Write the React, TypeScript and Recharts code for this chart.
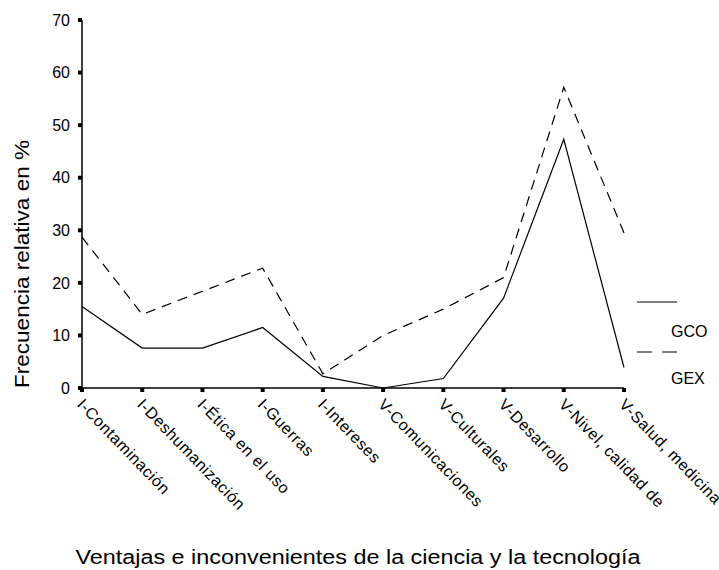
import React from 'react';
import { LineChart, Line, XAxis, YAxis, Label } from 'recharts';

const categories = [
  'I-Contaminación',
  'I-Deshumanización',
  'I-Ética en el uso',
  'I-Guerras',
  'I-Intereses',
  'V-Comunicaciones',
  'V-Culturales',
  'V-Desarrollo',
  'V-Nivel, calidad de',
  'V-Salud, medicina',
];
const gco = [15.5, 7.6, 7.6, 11.5, 2.2, 0, 1.8, 17.1, 47.3, 3.9];
const gex = [28.7, 14, 18.4, 22.8, 2.7, 10, 15, 21, 57.2, 29.5];
const yTicks = [0, 10, 20, 30, 40, 50, 60, 70];

const data = categories.map((name, i) => ({ name, GCO: gco[i], GEX: gex[i] }));

const FONT = '"Liberation Sans", Arial, sans-serif';

const XTick = ({ x, y, payload }: any) => (
  <g transform={`translate(${x},${y})`}>
    <text
      x={4}
      y={12}
      transform="rotate(46)"
      textAnchor="start"
      fontSize={16}
      letterSpacing={0.6}
      fontFamily={FONT}
      fill="#000"
    >
      {payload.value}
    </text>
  </g>
);

// legend drawn as an overlay so it does not take room from the plot
const LegendBox = () => (
  <svg
    width={82}
    height={100}
    style={{ position: 'absolute', left: 637, top: 295 }}
  >
    <line x1={0} y1={7} x2={40} y2={7} stroke="#000" strokeWidth={1.2} />
    <text x={34} y={42} fontSize={16} fontFamily={FONT} fill="#000">GCO</text>
    <line x1={0} y1={57} x2={40} y2={57} stroke="#000" strokeWidth={1.2} strokeDasharray="15 10" />
    <text x={34} y={89} fontSize={16} fontFamily={FONT} fill="#000">GEX</text>
  </svg>
);

export default function App() {
  return (
    <div style={{ position: 'absolute', left: 0, top: 0, width: 719, height: 570, background: '#fff' }}>
      <LineChart
        width={719}
        height={570}
        data={data}
        margin={{ top: 20, right: 95, left: 0, bottom: 0 }}
      >
        <XAxis
          dataKey="name"
          interval={0}
          height={182}
          tick={<XTick />}
          axisLine={{ stroke: '#000', strokeWidth: 1.5 }}
          tickLine={{ stroke: '#000', strokeWidth: 4 }}
          tickSize={4}
        >
          <Label
            content={() => (
              <text
                x={358}
                y={564}
                textAnchor="middle"
                fontSize={20}
                textLength={565}
                lengthAdjust="spacingAndGlyphs"
                fontFamily={FONT}
                fill="#000"
              >
                Ventajas e inconvenientes de la ciencia y la tecnología
              </text>
            )}
          />
        </XAxis>
        <YAxis
          width={82}
          domain={[0, 70]}
          ticks={yTicks}
          interval={0}
          tick={{ fontSize: 16, fill: '#000', fontFamily: FONT }}
          axisLine={{ stroke: '#000', strokeWidth: 1.5 }}
          tickLine={{ stroke: '#000', strokeWidth: 4 }}
          tickSize={4}
          tickMargin={8}
        >
          <Label
            content={() => (
              <text
                x={29}
                y={264}
                transform="rotate(-90, 29, 264)"
                textAnchor="middle"
                fontSize={20}
                textLength={248}
                lengthAdjust="spacingAndGlyphs"
                fontFamily={FONT}
                fill="#000"
              >
                Frecuencia relativa en %
              </text>
            )}
          />
        </YAxis>
        <Line
          type="linear"
          dataKey="GCO"
          stroke="#000"
          strokeWidth={1.2}
          dot={false}
          isAnimationActive={false}
        />
        <Line
          type="linear"
          dataKey="GEX"
          stroke="#000"
          strokeWidth={1.2}
          strokeDasharray="10 7"
          dot={false}
          isAnimationActive={false}
        />
      </LineChart>
      <LegendBox />
    </div>
  );
}
